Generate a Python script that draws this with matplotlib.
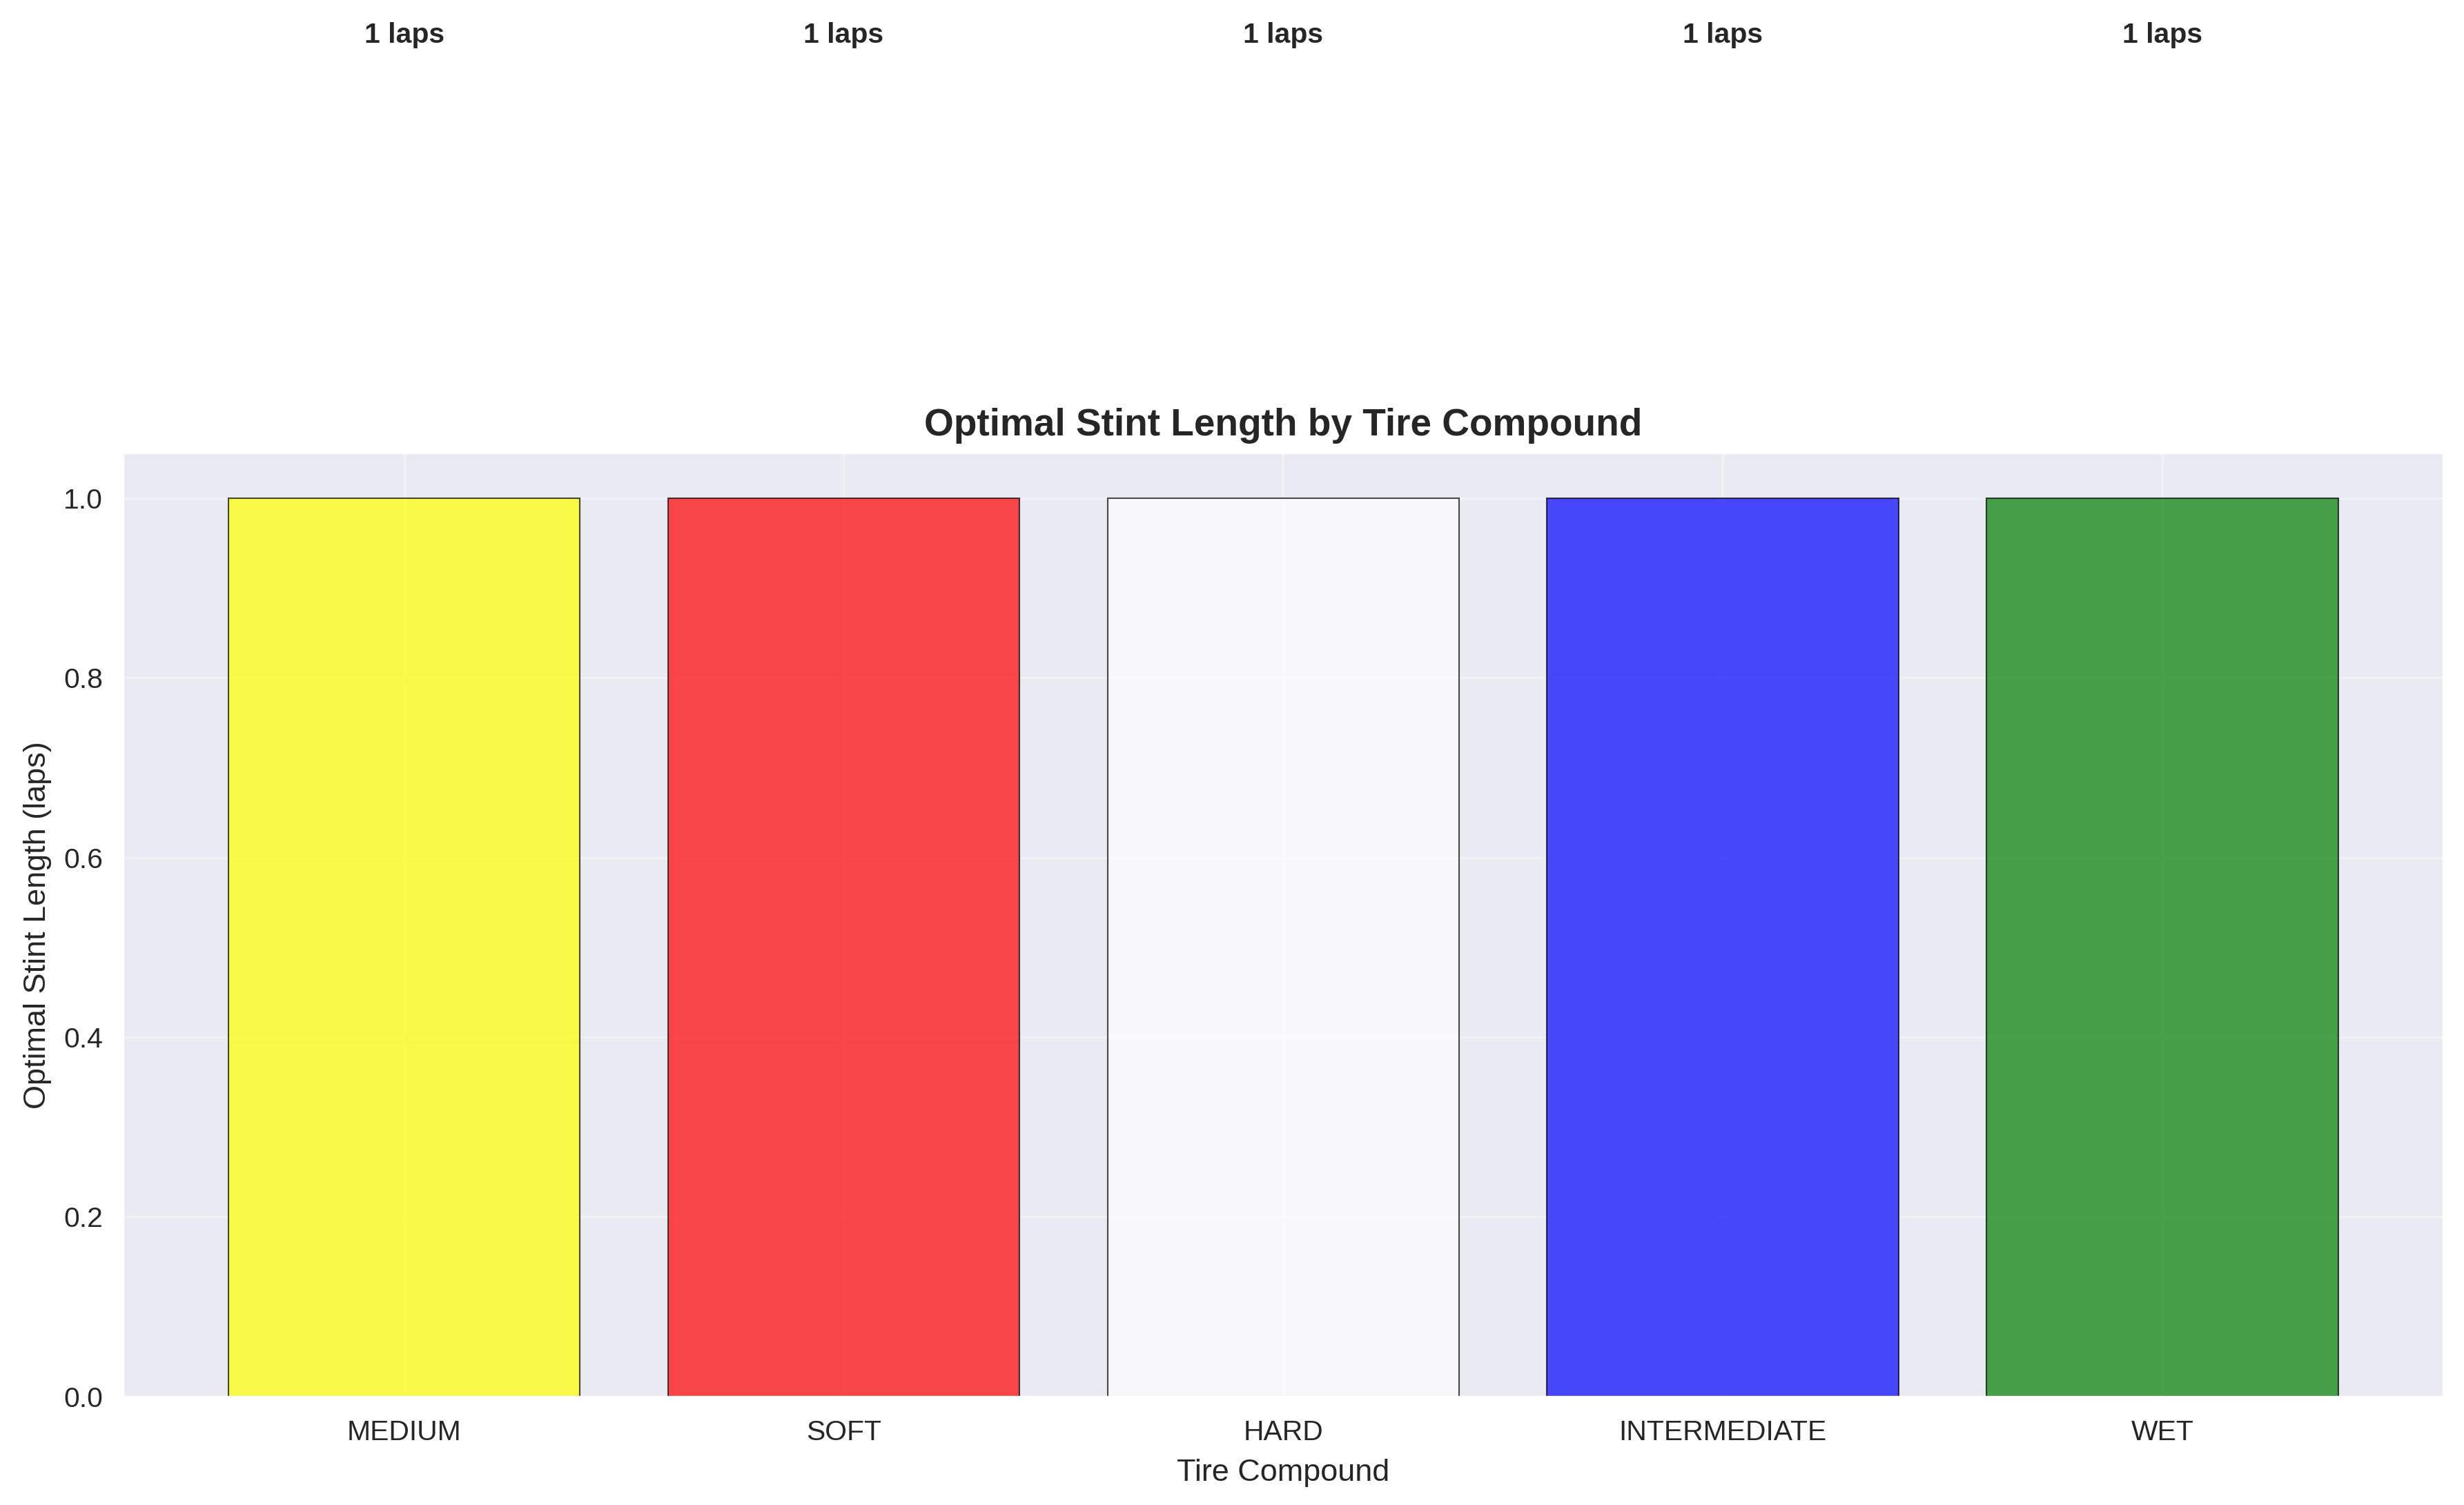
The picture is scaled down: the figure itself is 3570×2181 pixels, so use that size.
import matplotlib
matplotlib.use("Agg")
import matplotlib.pyplot as plt
import seaborn as sns

compounds = ["MEDIUM", "SOFT", "HARD", "INTERMEDIATE", "WET"]
stint_laps = [1, 1, 1, 1, 1]
bar_colors = ["yellow", "red", "white", "blue", "green"]

sns.set_style("darkgrid")
plt.rcParams["font.family"] = ["Liberation Sans", "DejaVu Sans"]

fig = plt.figure(figsize=(11.9, 7.27), dpi=300)
ax = fig.add_axes([0.0499, 0.072, 0.9418, 0.627])

bars = ax.bar(compounds, stint_laps, color=bar_colors, alpha=0.7,
              edgecolor="black", linewidth=0.5)
for b, v in zip(bars, stint_laps):
    ax.text(b.get_x() + b.get_width() / 2, v + 0.5, f"{v} laps",
            ha="center", va="bottom", fontsize=9.8, fontweight="bold", color="#262626")

ax.set_title("Optimal Stint Length by Tire Compound", fontsize=13.2,
             fontweight="bold", color="#262626")
ax.set_xlabel("Tire Compound", fontsize=10.8, color="#262626", labelpad=4.5)
ax.set_ylabel("Optimal Stint Length (laps)", fontsize=10.8, color="#262626")
ax.tick_params(axis="x", pad=4.5)
ax.tick_params(labelsize=9.8, colors="#262626")
ax.grid(True, alpha=0.3)

fig.savefig("out.png", dpi=300)
